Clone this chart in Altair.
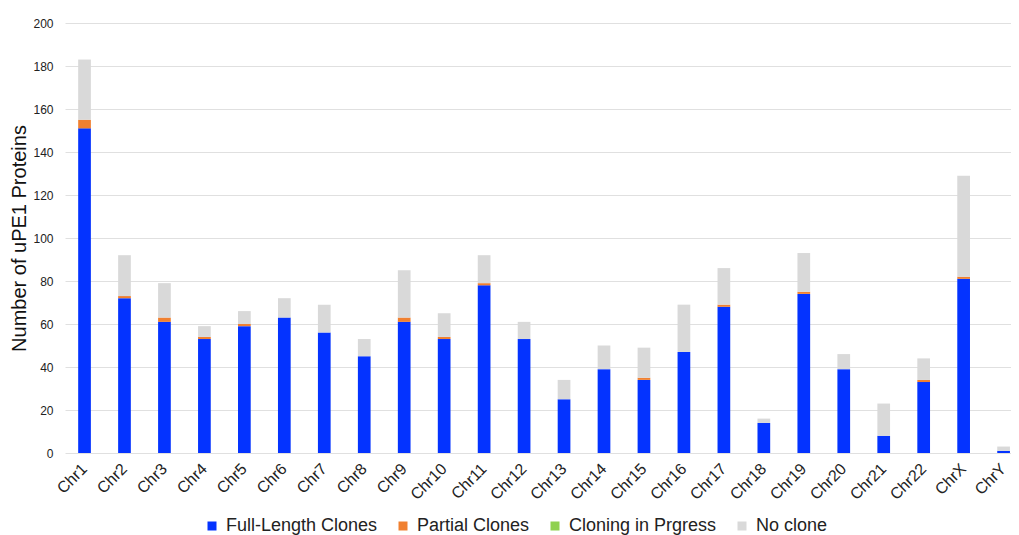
import altair as alt
import pandas as pd

chromosomes = ["Chr1", "Chr2", "Chr3", "Chr4", "Chr5", "Chr6", "Chr7", "Chr8", "Chr9", "Chr10",
               "Chr11", "Chr12", "Chr13", "Chr14", "Chr15", "Chr16", "Chr17", "Chr18", "Chr19",
               "Chr20", "Chr21", "Chr22", "ChrX", "ChrY"]
full_length = [151, 72, 61, 53, 59, 63, 56, 45, 61, 53, 78, 53, 25, 39, 34, 47, 68, 14, 74, 39, 8, 33, 81, 1]
partial = [4, 1, 2, 1, 1, 0, 0, 0, 2, 1, 1, 0, 0, 0, 1, 0, 1, 0, 1, 0, 0, 1, 1, 0]
in_progress = [0] * 24
no_clone = [28, 19, 16, 5, 6, 9, 13, 8, 22, 11, 13, 8, 9, 11, 14, 22, 17, 2, 18, 7, 15, 10, 47, 2]

series_names = ["Full-Length Clones", "Partial Clones", "Cloning in Prgress", "No clone"]
series_colors = ["#0433ff", "#f08030", "#8fd14f", "#d9d9d9"]
series_values = [full_length, partial, in_progress, no_clone]

rows = []
for si, (name, vals) in enumerate(zip(series_names, series_values)):
    for c, v in zip(chromosomes, vals):
        rows.append({"chrom": c, "series": name, "value": v, "order": si})
df = pd.DataFrame(rows)

chart = alt.Chart(df).mark_bar().encode(
    x=alt.X("chrom:N", sort=chromosomes, title=None,
            scale=alt.Scale(paddingInner=0.682, paddingOuter=0.178, align=0.926),
            axis=alt.Axis(labelAngle=-45, labelAlign="right", labelBaseline="middle",
                          labelFontSize=16, labelPadding=13, ticks=False, domain=False,
                          labelColor="#222222")),
    y=alt.Y("value:Q", stack="zero", title="Number of uPE1 Proteins",
            scale=alt.Scale(domain=[0, 200]),
            axis=alt.Axis(values=list(range(0, 201, 20)), tickSize=0, domain=False,
                          labelPadding=12, labelFontSize=12, labelColor="#222222",
                          gridColor="#e0e0e0", titleFontSize=20, titleFontWeight="normal",
                          titleColor="#111111", titlePadding=3)),
    color=alt.Color("series:N", sort=series_names,
                    scale=alt.Scale(domain=series_names, range=series_colors),
                    legend=alt.Legend(title=None, orient="none", legendX=138, legendY=494,
                                      direction="horizontal", symbolType="square",
                                      symbolSize=81, labelFontSize=18, labelColor="#222222",
                                      columnPadding=16, labelOffset=5, symbolStrokeWidth=0)),
    order=alt.Order("order:Q", sort="ascending"),
).properties(
    width=946, height=430,
    autosize=alt.AutoSizeParams(type="none"),
    padding={"left": 57, "top": 15, "right": 0, "bottom": 82},
).configure(
    font="Liberation Sans",
).configure_view(stroke=None)

chart.save("out.html", embed_options={"renderer": "svg", "actions": False})
